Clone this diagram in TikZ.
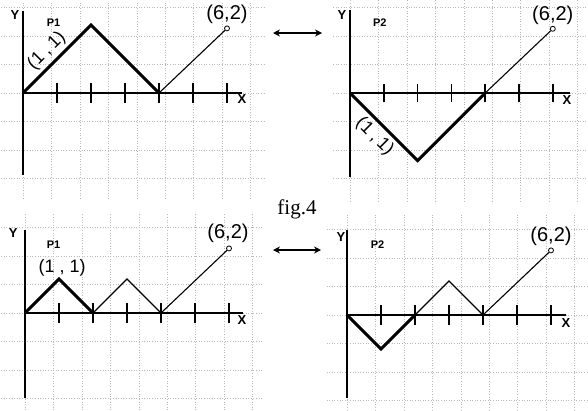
\documentclass[tikz,border=0pt]{standalone}
\usepackage{fontspec}
\setmainfont{Liberation Sans}
\newfontfamily\serifface{Liberation Serif}
\newfontfamily\boldlabelface{Liberation Sans Bold}
\usetikzlibrary{arrows.meta}
\begin{document}
\begin{tikzpicture}[x=1pt,y=1pt,
  gridline/.style={gray!55, dotted, line width=0.6pt},
  axis/.style={line width=1.8pt},
  tickmark/.style={line width=1.5pt},
  thickpath/.style={line width=2.9pt, line join=miter},
  thinpath/.style={line width=1.1pt},
  endmark/.style={circle, draw, line width=0.8pt, inner sep=0pt, minimum size=5pt},
  axlabel/.style={font=\boldlabelface\fontsize{13}{13}\selectfont, inner sep=0pt},
  plabel/.style={font=\boldlabelface\fontsize{11}{11}\selectfont, inner sep=0pt},
  coordlabel/.style={font=\fontsize{20}{20}\selectfont, inner sep=0pt},
  onelabel/.style={font=\fontsize{18}{18}\selectfont, inner sep=0pt},
  dblarrow/.style={{Stealth[length=7pt,width=7pt]}-{Stealth[length=7pt,width=7pt]}, line width=1.5pt}]
\useasboundingbox (0,0) rectangle (588,-410);

% ---------- top left ----------
\begin{scope}[shift={(23,-93)}, x=34pt, y=34pt]
  \draw[gridline] (-0.65,-3.1) grid (7.1,2.7);
  \coordinate (a0) at (0,0);
  \coordinate (a1) at (2,2);
  \coordinate (a2) at (4,0);
  \coordinate (aYt) at (0,2.4);
  \coordinate (aYb) at (0,-2.4);
  \coordinate (aXe) at (6.45,0);
  \draw[axis] (aYt) -- (aYb);
  \draw[axis] (a0) -- (aXe);
  \foreach \i in {1,...,6} \draw[tickmark] (\i,-0.28) -- (\i,0.28);
  \draw[thickpath] (a0) -- (a1) -- (a2);
  \node[endmark] (a3) at (6,1.9) {};
  \draw[thinpath] (a2) -- (a3);
  \node[axlabel] (aY) at (-0.24,2.3) {Y};
  \node[axlabel] (aX) at (6.44,-0.18) {X};
  \node[plabel] (aP) at (0.9,2.06) {P1};
  \node[coordlabel] (aL62) at (6,2.3) {(6,2)};
  \node[onelabel, rotate=45] (aL11) at (0.7,1.24) {(1\hspace{4pt},\hspace{4pt}1)};
\end{scope}

% ---------- top right ----------
\begin{scope}[shift={(350,-93)}, x=33.8pt, y=33.8pt]
  \draw[gridline] (-0.5,-3.2) grid (7.2,2.75);
  \coordinate (b0) at (0,0);
  \coordinate (b1) at (2,-2);
  \coordinate (b2) at (4,0);
  \coordinate (bYt) at (0,2.45);
  \coordinate (bYb) at (0,-2.48);
  \coordinate (bXe) at (6.5,0);
  \draw[axis] (bYt) -- (bYb);
  \draw[axis] (b0) -- (bXe);
  \foreach \i in {1,...,6} \draw[tickmark] (\i,-0.28) -- (\i,0.28);
  \draw[thickpath] (b0) -- (b1) -- (b2);
  \node[endmark] (b3) at (6,1.9) {};
  \draw[thinpath] (b2) -- (b3);
  \node[axlabel] (bY) at (-0.24,2.3) {Y};
  \node[axlabel] (bX) at (6.42,-0.2) {X};
  \node[plabel] (bP) at (0.88,2.08) {P2};
  \node[coordlabel] (bL62) at (6,2.3) {(6,2)};
  \node[onelabel, rotate=-45] (bL11) at (0.73,-1.29) {(1\hspace{4pt},\hspace{4pt}1)};
\end{scope}

% ---------- bottom left ----------
\begin{scope}[shift={(25,-313)}, x=34pt, y=34pt]
  \draw[gridline] (-0.7,-2.85) grid (7.0,2.9);
  \coordinate (c0) at (0,0);
  \coordinate (c1) at (1,1);
  \coordinate (c2) at (2,0);
  \coordinate (c3) at (3,1);
  \coordinate (c4) at (4,0);
  \coordinate (cYt) at (0,2.45);
  \coordinate (cYb) at (0,-2.5);
  \coordinate (cXe) at (6.4,0);
  \draw[axis] (cYt) -- (cYb);
  \draw[axis] (c0) -- (cXe);
  \foreach \i in {1,...,6} \draw[tickmark] (\i,-0.28) -- (\i,0.28);
  \draw[thickpath] (c0) -- (c1) -- (c2);
  \node[endmark] (c5) at (6,1.9) {};
  \draw[thinpath] (c2) -- (c3) -- (c4) -- (c5);
  \node[axlabel] (cY) at (-0.35,2.35) {Y};
  \node[axlabel] (cX) at (6.38,-0.2) {X};
  \node[plabel] (cP) at (0.84,2.0) {P1};
  \node[coordlabel] (cL62) at (5.97,2.35) {(6,2)};
  \node[onelabel] (cL11) at (1.09,1.34) {(1\hspace{5pt},\hspace{5pt}1)};
\end{scope}

% ---------- bottom right ----------
\begin{scope}[shift={(347,-315)}, x=34pt, y=34pt]
  \draw[gridline] (-0.6,-2.8) grid (7.1,2.95);
  \coordinate (d0) at (0,0);
  \coordinate (d1) at (1,-1);
  \coordinate (d2) at (2,0);
  \coordinate (d3) at (3,1);
  \coordinate (d4) at (4,0);
  \coordinate (dYt) at (0,2.5);
  \coordinate (dYb) at (0,-2.45);
  \coordinate (dXe) at (6.45,0);
  \draw[axis] (dYt) -- (dYb);
  \draw[axis] (d0) -- (dXe);
  \foreach \i in {1,...,6} \draw[tickmark] (\i,-0.28) -- (\i,0.28);
  \draw[thickpath] (d0) -- (d1) -- (d2);
  \node[endmark] (d5) at (6,1.9) {};
  \draw[thinpath] (d2) -- (d3) -- (d4) -- (d5);
  \node[axlabel] (dY) at (-0.18,2.3) {Y};
  \node[axlabel] (dX) at (6.44,-0.24) {X};
  \node[plabel] (dP) at (0.9,2.06) {P2};
  \node[coordlabel] (dL62) at (6,2.3) {(6,2)};
\end{scope}

% ---------- arrows and caption ----------
\coordinate (t1) at (273,-33);
\coordinate (t2) at (322,-33);
\draw[dblarrow] (t1) -- (t2);
\coordinate (u1) at (273,-250);
\coordinate (u2) at (321,-250);
\draw[dblarrow] (u1) -- (u2);
\node[font=\serifface\fontsize{21}{21}\selectfont, inner sep=0pt] (fig) at (297,-209) {fig.4};
\end{tikzpicture}
\end{document}
